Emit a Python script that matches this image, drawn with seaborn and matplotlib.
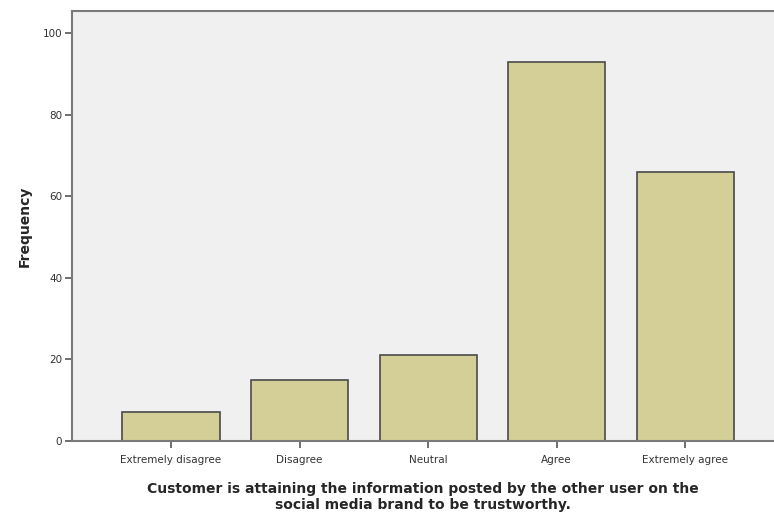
import matplotlib
matplotlib.use('Agg')
import matplotlib.pyplot as plt
import seaborn as sns
import pandas as pd

categories = ['Extremely disagree', 'Disagree', 'Neutral', 'Agree', 'Extremely agree']
frequency = [7, 15, 21, 93, 66]
yticks = [0, 20, 40, 60, 80, 100]

xlabel = ('Customer is attaining the information posted by the other user on the\n'
          'social media brand to be trustworthy.')


def main():
    sns.set_style('white')
    plt.rcParams['font.family'] = ['DejaVu Sans']
    df = pd.DataFrame({'cat': categories, 'freq': frequency})

    fig = plt.figure(figsize=(7.74, 5.2), dpi=100)
    ax = fig.add_axes([0.093, 0.152, 0.907, 0.827])
    ax.set_facecolor('#F0F0F0')
    sns.barplot(data=df, x='cat', y='freq', order=categories, color='#D3CF97',
                saturation=1, width=0.755, edgecolor='#4a4a4a', linewidth=1.2, ax=ax)
    ax.set_xlim(-0.77, 4.69)
    ax.set_ylim(0, 105.4)
    ax.set_yticks(yticks)
    for s in ax.spines.values():
        s.set_color('#7a7a7a')
        s.set_linewidth(1.5)
    ax.spines['right'].set_visible(False)
    ax.tick_params(axis='both', direction='out', length=5, width=1.2, color='#555555',
                   labelsize=7.5, labelcolor='#333333', pad=2, bottom=True, left=True)
    ax.tick_params(axis='x', pad=5)
    ax.set_ylabel('Frequency', fontsize=10, fontweight='bold', labelpad=8)
    ax.set_xlabel(xlabel, fontsize=10, fontweight='bold', linespacing=1.2, labelpad=12)
    fig.savefig('out.png', dpi=100)


if __name__ == '__main__':
    main()
